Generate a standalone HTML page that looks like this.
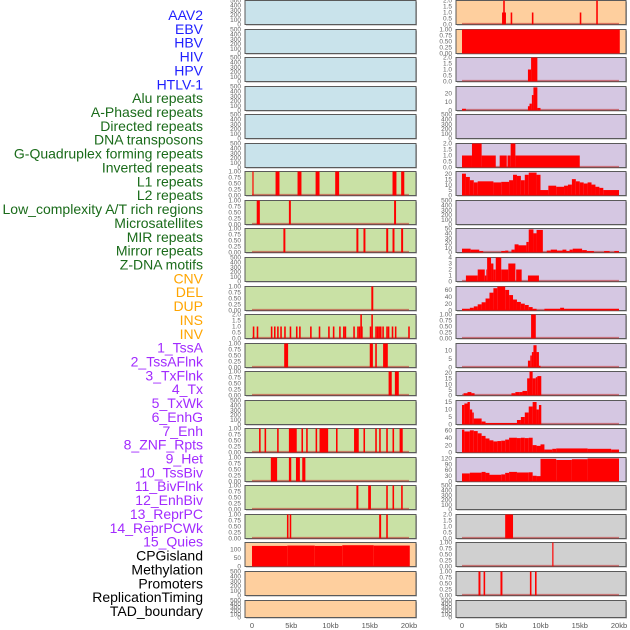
<!DOCTYPE html>
<html><head><meta charset="utf-8"><style>
html,body{margin:0;padding:0;background:#fff;width:630px;height:630px;overflow:hidden}
svg{display:block}
</style></head><body>
<svg id="chart" width="630" height="630" xmlns="http://www.w3.org/2000/svg"></svg>
<script>
const labels = ["AAV2","EBV","HBV","HIV","HPV","HTLV-1","Alu repeats","A-Phased repeats","Directed repeats","DNA transposons","G-Quadruplex forming repeats","Inverted repeats","L1 repeats","L2 repeats","Low_complexity A/T rich regions","Microsatellites","MIR repeats","Mirror repeats","Z-DNA motifs","CNV","DEL","DUP","INS","INV","1_TssA","2_TssAFlnk","3_TxFlnk","4_Tx","5_TxWk","6_EnhG","7_Enh","8_ZNF_Rpts","9_Het","10_TssBiv","11_BivFlnk","12_EnhBiv","13_ReprPC","14_ReprPCWk","15_Quies","CPGisland","Methylation","Promoters","ReplicationTiming","TAD_boundary"];
const labelGroups = [6,13,5,15,5];
const groupColors = ["#1f1fff","#1a6b1a","#ffa500","#a22bff","#000000"];
const xTicks = [0,5,10,15,20];
const xTickLabels = ["0","5kb","10kb","15kb","20kb"];

const T500=[0,100,200,300,400,500], T1=[0,0.25,0.5,0.75,1], T2=[0,0.5,1,1.5,2];
// left column segments [startKb, endKb, value]
const segL6=[[0.05,0.2,1],[3.0,3.5,1],[5.8,6.3,1],[8.1,8.6,1],[10.6,11.1,1],[17.9,18.4,1],[19.0,19.4,1]];
const segL7=[[0.6,1.0,1],[4.7,4.95,1],[18.1,18.35,1]];
const segL8=[[4.0,4.25,1],[13.3,13.55,1],[14.2,14.45,1],[17.1,17.35,1],[17.9,18.15,1],[19.0,19.25,1]];
const segL10=[[15.2,15.45,1]];
const insPos=[0.1,0.6,2.4,2.8,3.2,3.6,4.1,4.8,5.6,6.0,7.4,8.5,9.7,10.3,11.1,11.6,11.8,12.9,13.4,13.6,13.9,15.0,15.7,15.9,16.1,16.3,16.6,17.1,17.3,17.8,18.2,19.9];
const insTall=[13.8,15.2];
const segL12=[[4.1,4.6,1],[15.0,15.4,1],[15.7,15.9,1],[16.7,17.3,1]];
const segL13=[[17.4,17.8,1],[18.2,18.7,1]];
const segL15=[[0.9,1.1,1],[1.6,1.8,1],[3.2,3.4,1],[4.7,5.7,1],[6.3,6.5,1],[6.9,7.1,1],[8.1,8.3,1],[8.6,9.7,1],[10.7,10.9,1],[13.0,13.6,1],[14.2,14.4,1],[15.7,15.9,1],[16.2,16.4,1],[17.1,17.3,1],[17.9,18.1,1],[18.8,19.2,1]];
const segL16=[[2.4,3.2,1],[4.7,5.0,1],[5.6,6.1,1],[6.4,6.8,1]];
const segL17=[[13.3,13.55,1],[14.8,15.15,1],[17.1,17.3,1],[17.9,18.1,1],[19.0,19.2,1]];
const segL18=[[4.45,4.65,1],[4.8,5.0,1],[16.2,16.45,1],[17.1,17.3,1]];
const segL19=[[0,4.5,121],[4.5,8,123],[8,11.5,121],[11.5,15.5,125],[15.5,20.1,123]];
// right column
const segR0=[[5.1,5.6,1],[5.25,5.45,2],[6.2,6.4,1],[8.9,9.1,1],[15.0,15.2,1],[17.1,17.3,2]];
const segR1=[[0,20.1,1]];
const segR2=[[8.4,8.8,1],[8.8,9.6,2]];
const segR3=[[0,0.5,2],[8.4,8.6,5],[8.6,8.9,8],[8.9,9.1,18],[9.1,9.6,27],[9.6,10.0,3]];
const segR5=[[0,1.27,1],[1.27,2.5,2],[2.5,4.3,1],[4.8,5.7,1],[5.8,6.2,1],[6.2,6.8,2],[6.8,15.0,1]];
const segR6=[[0,0.5,20],[0.5,1,17],[1,1.5,14],[1.5,2,12],[2,4,13],[4,5,12],[5,6,12.5],[6,6.5,14],[6.5,7,19],[7,7.5,18],[7.5,8,14],[8,8.5,19],[8.5,9.5,21],[9.5,10,19],[10,11,5],[11,12,9],[12,13,8],[13,13.5,9],[13.5,14,10],[14,14.5,15],[14.5,15,13],[15,15.5,12],[15.5,16,11],[16,16.5,12],[16.5,17,10],[17,17.5,8],[17.5,18,7],[18,20,5]];
const segR8=[[0,1.1,8],[1.1,2.2,6],[2.2,2.7,3],[5.0,5.5,3],[5.5,5.9,4],[6.3,6.7,6],[6.7,7.2,17],[7.2,8.2,15],[8.2,8.5,22],[8.5,9.1,48],[9.1,9.5,40],[9.5,10.3,47],[10.8,11.3,4],[11.3,12.1,6],[12.1,12.8,4],[12.8,13.3,6],[13.3,13.7,3],[13.7,14.1,6],[14.1,15.3,8],[15.3,15.9,5],[15.9,16.8,3],[18.1,18.8,3],[19.4,20,3]];
const segR9=[[0.5,2.0,1],[2.0,2.9,2],[2.9,3.1,1],[3.1,3.2,2],[3.2,3.7,4],[3.7,4.0,3],[4.0,4.3,2],[4.3,5.0,4],[5.0,5.9,2],[5.9,6.8,3],[6.9,7.6,2],[8.4,9.8,1]];
const segR10=[[0,1,5],[1,1.5,8],[1.5,2,12],[2,2.5,18],[2.5,3,24],[3,3.5,35],[3.5,4,52],[4,4.5,65],[4.5,5.5,70],[5.5,6,60],[6,6.5,45],[6.5,7,32],[7,7.5,25],[7.5,8,20],[8,8.5,16],[8.5,9,10],[9,9.5,5],[10.5,12.5,5],[12.5,13,8],[13,20,5]];
const segR11=[[8.8,9.4,1]];
const segR12=[[8.4,8.7,4],[8.7,8.9,7],[8.9,9.1,9],[9.1,9.5,13],[9.5,9.8,9],[9.8,10.0,1]];
const segR13=[[0.2,0.7,2],[0.7,1.2,3],[1.2,1.6,2],[6.3,6.8,2],[6.8,7.3,3],[7.3,7.7,3],[7.7,8.3,4],[8.3,8.6,15],[8.6,9.0,21],[9.0,9.4,15],[9.4,9.6,16],[9.6,10.1,17]];
const segR14=[[0,0.3,13],[0.3,0.7,14],[0.7,1,15],[1,1.3,10],[1.3,1.5,8],[1.5,2.5,4],[2.5,3,2],[3,7,1],[7,7.5,3],[7.5,8,5],[8,8.5,8],[8.5,9,12],[9,9.5,15],[9.5,9.8,10],[9.8,10.1,13]];
const segR15=[[0,0.3,62],[0.3,1,57],[1,1.5,60],[1.5,2,58],[2,2.5,52],[2.5,3,45],[3,3.5,38],[3.5,4,33],[4,4.5,30],[4.5,5,31],[5,5.5,32],[5.5,6,35],[6,7,40],[7,7.5,39],[7.5,8,40],[8,8.5,39],[8.5,9,40],[9,9.5,20],[9.5,10,18],[10,10.5,22],[10.5,11.5,8],[11.5,12,10],[12,16,11],[16,19,10],[19,20,8]];
const segR16=[[0,1,42],[1,2.5,46],[2.5,3,50],[3,3.5,45],[3.5,5,35],[5,5.5,37],[5.5,6,45],[6,7,50],[7,8.5,47],[8.5,9,48],[9,9.5,30],[9.5,10,28],[10,12,118],[12,14,112],[14,16,116],[16,20,120]];
const segR18=[[5.5,6.5,2]];
const segR19=[[11.5,11.65,1]];
const segR20=[[2.1,2.35,1],[2.75,2.95,1],[4.9,5.15,1],[8.65,8.85,1],[9.3,9.5,1]];

const segL11=insPos.map(p=>[p,p+0.2,1]).concat(insTall.map(p=>[p,p+0.2,2]));

const C={b:"#c9e3eb",g:"#c9e1a5",p:"#fecf9e",l:"#d5c7e2",r:"#d0d0d0"};
// [bgLeft, segsLeft, ticksLeft, ymaxLeft, bgRight, segsRight, ticksRight, ymaxRight]
const rows=[
 ["b",null,T500,500,"p",segR0,T2,2],
 ["b",null,T500,500,"p",segR1,T1,1],
 ["b",null,T500,500,"l",segR2,T2,2],
 ["b",null,T500,500,"l",segR3,[0,10,20],28],
 ["b",null,T500,500,"l",null,T500,500],
 ["b",null,T500,500,"l",segR5,T2,2],
 ["g",segL6,T1,1,"l",segR6,[0,5,10,15,20],22],
 ["g",segL7,T1,1,"l",null,T500,500],
 ["g",segL8,T1,1,"l",segR8,[0,10,20,30,40,50],50],
 ["g",null,T500,500,"l",segR9,[0,1,2,3,4],4],
 ["g",segL10,T1,1,"l",segR10,[0,20,40,60],70],
 ["g",segL11,T2,2,"l",segR11,T1,1],
 ["g",segL12,T1,1,"l",segR12,[0,5,10],14],
 ["g",segL13,T1,1,"l",segR13,[0,5,10,15,20],21],
 ["g",null,T500,500,"l",segR14,[0,5,10,15],16],
 ["g",segL15,T1,1,"l",segR15,[0,20,40,60],65],
 ["g",segL16,T1,1,"l",segR16,[0,30,60,90,120],125],
 ["g",segL17,T1,1,"r",null,T500,500],
 ["g",segL18,T1,1,"r",segR18,T2,2],
 ["p",segL19,[0,50,100],141,"r",segR19,T1,1],
 ["p",null,T500,500,"r",segR20,T1,1],
 ["p",null,T500,500,"r",null,T500,500]
];

const NS="http://www.w3.org/2000/svg";
const svg=document.getElementById("chart");
function mk(tag,attrs,parent){const e=document.createElementNS(NS,tag);for(const k in attrs)e.setAttribute(k,attrs[k]);(parent||svg).appendChild(e);return e;}
const KB=7.85;
function xL(kb){return 252+kb*KB;}
function xR(kb){return 462+kb*KB;}
function fmt(t,ticks){const m=ticks[ticks.length-1];if(m===1)return t.toFixed(2);if(m===2)return t.toFixed(1);return String(t);}

// labels
let li=0;
labelGroups.forEach((n,g)=>{for(let k=0;k<n;k++){const y=15+li*13.86;const t=mk("text",{x:203,y:y+5,"text-anchor":"end","font-family":"Liberation Sans, sans-serif","font-size":"14",fill:groupColors[g]});t.textContent=labels[li];


li++;}});

function panel(x0,x1,top,h,bg,segs,ticks,ymax,xf,side){
 const g=mk("g",{});
 
 
 mk("rect",{x:x0+1,y:top+1,width:x1-x0,height:h,fill:"#a8a8a8"},g);
 mk("rect",{x:x0,y:top,width:x1-x0,height:h,fill:C[bg],stroke:"#5a5a5a","stroke-width":1},g);
 const bot=top+h;
 const yf=v=>bot-v/ymax*h;
 if(segs){
  mk("line",{x1:xf(0),x2:xf(20),y1:bot-0.8,y2:bot-0.8,stroke:"rgba(190,40,40,0.55)","stroke-width":1.6},g);
  segs.forEach(s=>{const r=mk("rect",{x:xf(s[0]),y:yf(s[2]),width:Math.max(0.8,xf(s[1])-xf(s[0])),height:bot-yf(s[2]),fill:"#ff0000"},g);
   
   });
 }
 ticks.forEach(t=>{const tx=mk("text",{x:x0-4,y:yf(t)+2.2,"text-anchor":"end","font-family":"Liberation Sans, sans-serif","font-size":"6.5",fill:"#666"},g);tx.textContent=fmt(t,ticks);
  
  });
}
rows.forEach((r,i)=>{
 const top=Math.round(i*28.55)+0.5;
 const h=i===rows.length-1?17:24;
 panel(245,416,top,h,r[0],r[1],r[2],r[3],xL,'left');
 panel(456,626,top,h,r[4],r[5],r[6],r[7],xR,'right');
});
xTicks.forEach((t,i)=>{[xL,xR].forEach(f=>{const tx=mk("text",{x:f(t),y:628,"text-anchor":"middle","font-family":"Liberation Sans, sans-serif","font-size":"7.5",fill:"#555"});tx.textContent=xTickLabels[i];
 
 });});
</script>
</body></html>
